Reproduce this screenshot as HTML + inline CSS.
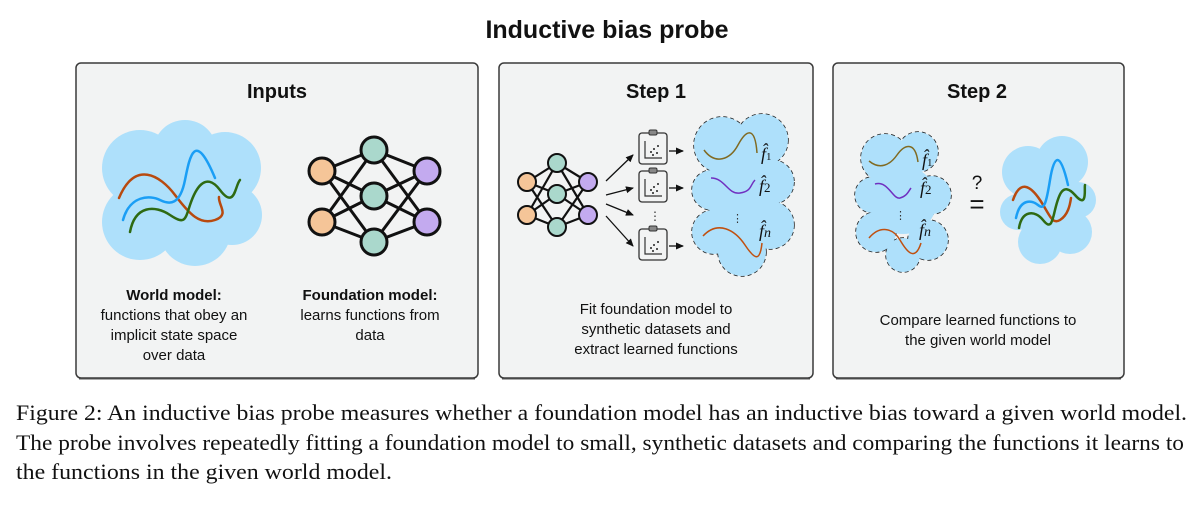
<!DOCTYPE html>
<html><head><meta charset="utf-8"><style>
html,body{margin:0;padding:0;background:#fff;width:1201px;height:506px;overflow:hidden}
svg{display:block}
.s{font-family:"Liberation Sans",sans-serif}
.m{font-family:"Liberation Serif",serif;font-style:italic}
.c{font-family:"Liberation Serif","Times New Roman",serif}
</style></head><body>
<svg width="1201" height="506" viewBox="0 0 1201 506" xmlns="http://www.w3.org/2000/svg">
<defs>
<marker id="ar" markerWidth="8" markerHeight="8" refX="7" refY="4" orient="auto" markerUnits="userSpaceOnUse"><path d="M0,0.5 L8,4 L0,7.5z" fill="#111"/></marker>
<g id="clip">
<rect x="0" y="3" width="28" height="31" rx="3" fill="#f2f3f3" stroke="#333" stroke-width="1.3"/>
<rect x="10" y="0" width="8" height="5" rx="1.5" fill="#888" stroke="#333" stroke-width="1"/>
<path d="M6,11 V28 H23" fill="none" stroke="#333" stroke-width="1.2"/>
<circle cx="12" cy="22" r="1" fill="#222"/><circle cx="15" cy="19" r="1" fill="#222"/><circle cx="18" cy="23" r="1" fill="#222"/><circle cx="19" cy="16" r="1" fill="#222"/><circle cx="14" cy="25" r="1" fill="#222"/>
</g>
</defs>
<text x="607" y="38" text-anchor="middle" class="s" font-size="25" font-weight="bold" fill="#111">Inductive bias probe</text>

<g fill="#f2f3f3" stroke="#3a3a3a" stroke-width="1.5">
<rect x="76" y="63" width="402" height="315" rx="5"/>
<rect x="499" y="63" width="314" height="315" rx="5"/>
<rect x="833" y="63" width="291" height="315" rx="5"/>
</g>
<g stroke="#555" stroke-width="1"><line x1="79" y1="379" x2="475" y2="379"/><line x1="502" y1="379" x2="810" y2="379"/><line x1="836" y1="379" x2="1121" y2="379"/></g>

<g class="s" font-size="20" font-weight="bold" fill="#111" text-anchor="middle">
<text x="277" y="98">Inputs</text><text x="656" y="98">Step 1</text><text x="977" y="98">Step 2</text>
</g>

<g fill="#aee0fb">
<circle cx="140" cy="168" r="38"/><circle cx="185" cy="152" r="32"/><circle cx="225" cy="168" r="36"/><circle cx="232" cy="215" r="30"/><circle cx="195" cy="230" r="36"/><circle cx="140" cy="222" r="38"/><circle cx="178" cy="192" r="45"/>
</g>
<g fill="none" stroke-width="2.5" stroke-linecap="round">
<path d="M119,198 C135,160 160,175 175,195 S200,225 215,220 S218,205 219,197" stroke="#b84a0f"/>
<path d="M123,220 C130,195 150,195 160,200 S180,205 185,180 S195,130 215,178" stroke="#1a9ef5"/>
<path d="M130,232 C135,205 155,205 170,215 S185,220 190,205 S205,170 220,190 S235,185 240,180" stroke="#2e6a12"/>
</g>

<g stroke="#111" stroke-width="3">
<line x1="322" y1="171" x2="374" y2="150"/><line x1="322" y1="171" x2="374" y2="196"/><line x1="322" y1="171" x2="374" y2="242"/>
<line x1="322" y1="222" x2="374" y2="150"/><line x1="322" y1="222" x2="374" y2="196"/><line x1="322" y1="222" x2="374" y2="242"/>
<line x1="427" y1="171" x2="374" y2="150"/><line x1="427" y1="171" x2="374" y2="196"/><line x1="427" y1="171" x2="374" y2="242"/>
<line x1="427" y1="222" x2="374" y2="150"/><line x1="427" y1="222" x2="374" y2="196"/><line x1="427" y1="222" x2="374" y2="242"/>
</g>
<g stroke="#111" stroke-width="3">
<circle cx="322" cy="171" r="13" fill="#f5c598"/><circle cx="322" cy="222" r="13" fill="#f5c598"/>
<circle cx="374" cy="150" r="13" fill="#aad8cc"/><circle cx="374" cy="196" r="13" fill="#aad8cc"/><circle cx="374" cy="242" r="13" fill="#aad8cc"/>
<circle cx="427" cy="171" r="13" fill="#c3aaef"/><circle cx="427" cy="222" r="13" fill="#c3aaef"/>
</g>

<g class="s" font-size="15" fill="#111" text-anchor="middle">
<text x="174" y="300" font-weight="bold">World model:</text>
<text x="174" y="320">functions that obey an</text>
<text x="174" y="340">implicit state space</text>
<text x="174" y="360">over data</text>
<text x="370" y="300" font-weight="bold">Foundation model:</text>
<text x="370" y="320">learns functions from</text>
<text x="370" y="340">data</text>
<text x="656" y="314">Fit foundation model to</text>
<text x="656" y="334">synthetic datasets and</text>
<text x="656" y="354">extract learned functions</text>
<text x="978" y="325">Compare learned functions to</text>
<text x="978" y="345">the given world model</text>
</g>

<g stroke="#111" stroke-width="2.2">
<line x1="527" y1="182" x2="557" y2="163"/><line x1="527" y1="182" x2="557" y2="194"/><line x1="527" y1="182" x2="557" y2="227"/>
<line x1="527" y1="215" x2="557" y2="163"/><line x1="527" y1="215" x2="557" y2="194"/><line x1="527" y1="215" x2="557" y2="227"/>
<line x1="588" y1="182" x2="557" y2="163"/><line x1="588" y1="182" x2="557" y2="194"/><line x1="588" y1="182" x2="557" y2="227"/>
<line x1="588" y1="215" x2="557" y2="163"/><line x1="588" y1="215" x2="557" y2="194"/><line x1="588" y1="215" x2="557" y2="227"/>
</g>
<g stroke="#111" stroke-width="2">
<circle cx="527" cy="182" r="9" fill="#f5c598"/><circle cx="527" cy="215" r="9" fill="#f5c598"/>
<circle cx="557" cy="163" r="9" fill="#aad8cc"/><circle cx="557" cy="194" r="9" fill="#aad8cc"/><circle cx="557" cy="227" r="9" fill="#aad8cc"/>
<circle cx="588" cy="182" r="9" fill="#c3aaef"/><circle cx="588" cy="215" r="9" fill="#c3aaef"/>
</g>
<g stroke="#111" stroke-width="1.3" marker-end="url(#ar)">
<line x1="606" y1="181" x2="633" y2="155"/><line x1="606" y1="195" x2="633" y2="188"/><line x1="606" y1="204" x2="633" y2="215"/><line x1="606" y1="216" x2="633" y2="246"/>
<line x1="669" y1="151" x2="683" y2="151"/><line x1="669" y1="188" x2="683" y2="188"/><line x1="669" y1="246" x2="683" y2="246"/>
</g>
<use href="#clip" x="639" y="130"/><use href="#clip" x="639" y="168"/><use href="#clip" x="639" y="226"/>
<text x="649" y="220" font-size="12" fill="#333" class="s">⋮</text>

<g fill="none" stroke="#222" stroke-width="1.5" stroke-dasharray="4,3">
<circle cx="722" cy="145" r="28"/><circle cx="762" cy="140" r="26"/><circle cx="772" cy="182" r="22"/><circle cx="770" cy="225" r="24"/><circle cx="742" cy="252" r="24"/><circle cx="714" cy="232" r="22"/><circle cx="712" cy="190" r="20"/>
</g>
<g fill="#aee0fb">
<circle cx="722" cy="145" r="28"/><circle cx="762" cy="140" r="26"/><circle cx="772" cy="182" r="22"/><circle cx="770" cy="225" r="24"/><circle cx="742" cy="252" r="24"/><circle cx="714" cy="232" r="22"/><circle cx="712" cy="190" r="20"/><circle cx="742" cy="195" r="36"/>
</g>
<g fill="none" stroke-width="1.5">
<path d="M704,150 C715,165 730,160 738,145 S755,125 757,153" stroke="#806a22"/>
<path d="M711,178 C725,178 728,195 740,193 S750,185 755,180" stroke="#7030c0"/>
<path d="M703,236 C718,220 735,230 745,245 S760,262 762,243" stroke="#c05010"/>
</g>
<g class="m" font-size="18" fill="#111">
<text x="761" y="160">f̂<tspan font-size="11" font-style="normal">1</tspan></text>
<text x="759" y="192">f̂<tspan font-size="13" font-style="normal">2</tspan></text>
<text x="759" y="237">f̂<tspan font-size="14">n</tspan></text>
</g>
<text x="732" y="222" font-size="11" fill="#333" class="s">⋮</text>

<g fill="none" stroke="#222" stroke-width="1.5" stroke-dasharray="4,3">
<circle cx="885" cy="158" r="24"/><circle cx="918" cy="152" r="20"/><circle cx="932" cy="195" r="19"/><circle cx="928" cy="240" r="20"/><circle cx="903" cy="255" r="17"/><circle cx="876" cy="232" r="20"/><circle cx="873" cy="195" r="18"/>
</g>
<g fill="#aee0fb">
<circle cx="885" cy="158" r="24"/><circle cx="918" cy="152" r="20"/><circle cx="932" cy="195" r="19"/><circle cx="928" cy="240" r="20"/><circle cx="903" cy="255" r="17"/><circle cx="876" cy="232" r="20"/><circle cx="873" cy="195" r="18"/><circle cx="903" cy="200" r="34"/>
</g>
<g fill="none" stroke-width="1.5">
<path d="M869,161 C880,170 890,165 897,155 S915,140 918,162" stroke="#806a22"/>
<path d="M875,184 C888,180 893,200 900,198 S908,192 911,188" stroke="#7030c0"/>
<path d="M869,238 C880,225 893,228 900,240 S915,262 921,243" stroke="#c05010"/>
</g>
<g class="m" font-size="18" fill="#111">
<text x="922" y="166">f̂<tspan font-size="11" font-style="normal">1</tspan></text>
<text x="920" y="194">f̂<tspan font-size="13" font-style="normal">2</tspan></text>
<text x="919" y="236">f̂<tspan font-size="14">n</tspan></text>
</g>
<text x="895" y="219" font-size="11" fill="#333" class="s">⋮</text>
<text x="977" y="189" text-anchor="middle" class="s" font-size="19" fill="#111">?</text>
<text x="977" y="213" text-anchor="middle" class="s" font-size="26" fill="#111">=</text>

<g fill="#aee0fb">
<circle cx="1028" cy="172" r="26"/><circle cx="1062" cy="162" r="26"/><circle cx="1078" cy="200" r="18"/><circle cx="1070" cy="232" r="22"/><circle cx="1040" cy="242" r="22"/><circle cx="1018" cy="212" r="18"/><circle cx="1048" cy="202" r="34"/>
</g>
<g fill="none" stroke-width="2.5" stroke-linecap="round">
<path d="M1013,200 C1020,180 1030,185 1040,200 S1052,225 1060,220 S1070,205 1071,198" stroke="#b84a0f"/>
<path d="M1016,218 C1020,198 1032,200 1038,205 S1046,205 1050,180 S1060,150 1068,185" stroke="#1a9ef5"/>
<path d="M1019,228 C1022,210 1035,210 1043,220 S1052,222 1055,210 S1062,180 1075,195 S1084,188 1085,185" stroke="#2e6a12"/>
</g>

<g class="c" font-size="22" fill="#111">
<text x="16" y="420" textLength="1171" lengthAdjust="spacingAndGlyphs">Figure 2: An inductive bias probe measures whether a foundation model has an inductive bias toward a given world model.</text>
<text x="16" y="450" textLength="1168" lengthAdjust="spacingAndGlyphs">The probe involves repeatedly fitting a foundation model to small, synthetic datasets and comparing the functions it learns to</text>
<text x="16" y="479" textLength="376" lengthAdjust="spacingAndGlyphs">the functions in the given world model.</text>
</g>
</svg>
</body></html>
